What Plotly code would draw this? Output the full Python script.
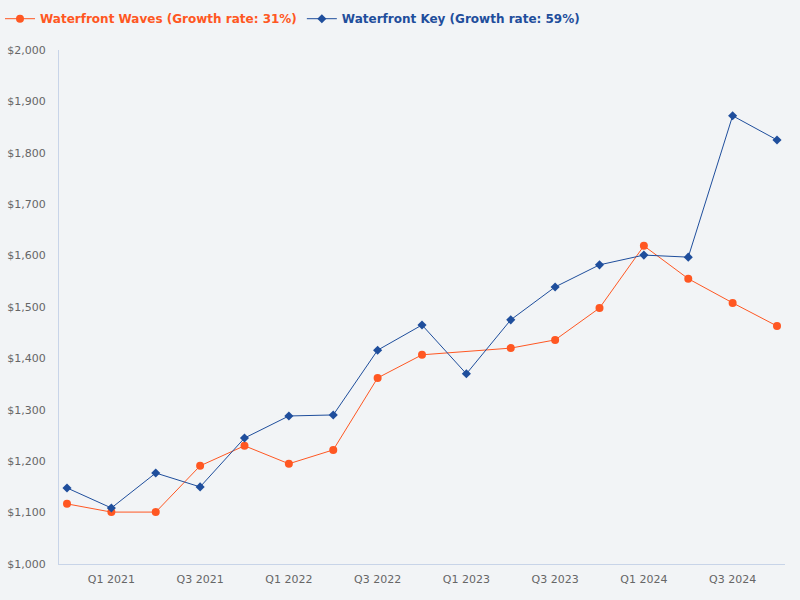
import plotly.graph_objects as go

quarters = ["Q4 2020", "Q1 2021", "Q2 2021", "Q3 2021", "Q4 2021", "Q1 2022", "Q2 2022",
            "Q3 2022", "Q4 2022", "Q1 2023", "Q2 2023", "Q3 2023", "Q4 2023", "Q1 2024",
            "Q2 2024", "Q3 2024", "Q4 2024"]
waves = [1117, 1101, 1101, 1191, 1230, 1195, 1222, 1362, 1407, None, 1420, 1436, 1498,
         1619, 1555, 1508, 1463]
key = [1148, 1109, 1177, 1150, 1245, 1288, 1290, 1416, 1465, 1370, 1475, 1539, 1582,
       1601, 1597, 1872, 1825]
tick_labels = ["Q1 2021", "Q3 2021", "Q1 2022", "Q3 2022", "Q1 2023", "Q3 2023",
               "Q1 2024", "Q3 2024"]
y_ticks = list(range(1000, 2001, 100))

idx = list(range(len(quarters)))
tickvals = [quarters.index(t) for t in tick_labels]

ORANGE = "#ff5722"
BLUE = "#1f4e9c"

fig = go.Figure()
fig.add_trace(go.Scatter(
    x=idx, y=waves, mode="lines+markers", connectgaps=True,
    name="<span style='color:%s'><b>Waterfront Waves (Growth rate: 31%%)</b></span>" % ORANGE,
    line=dict(color=ORANGE, width=1), marker=dict(symbol="circle", size=8, color=ORANGE),
))
fig.add_trace(go.Scatter(
    x=idx, y=key, mode="lines+markers", connectgaps=True,
    name="<span style='color:%s'><b>Waterfront Key (Growth rate: 59%%)</b></span>" % BLUE,
    line=dict(color=BLUE, width=1), marker=dict(symbol="diamond", size=7, color=BLUE),
))

fig.update_layout(
    width=800, height=600,
    paper_bgcolor="#f2f4f6", plot_bgcolor="#f2f4f6",
    margin=dict(l=59, r=15, t=50, b=36, autoexpand=False),
    font=dict(family="DejaVu Sans", size=11, color="#666666"),
    showlegend=True,
    legend=dict(orientation="h", x=0, y=0.993, xanchor="left", yanchor="top",
                xref="container", yref="container", font=dict(size=12),
                itemwidth=30, bgcolor="rgba(0,0,0,0)"),
    xaxis=dict(range=[-0.18, 16.18], tickvals=tickvals, ticktext=tick_labels,
               showgrid=False, zeroline=False, showline=True, linecolor="#c8d4e8",
               linewidth=1, ticks="outside", ticklen=5, tickcolor="rgba(0,0,0,0)",
               automargin=False, tickfont=dict(size=11, color="#666666")),
    yaxis=dict(range=[1000, 2000], tickvals=y_ticks,
               ticktext=["${:,}".format(v) for v in y_ticks],
               showgrid=False, zeroline=False, showline=True, linecolor="#c8d4e8",
               linewidth=1, ticks="outside", ticklen=10, tickcolor="rgba(0,0,0,0)",
               automargin=False, tickfont=dict(size=11, color="#666666")),
)

fig.write_html("out.html", config={"displayModeBar": False},
               post_script="document.body.style.margin='0';document.body.style.background='#f2f4f6';")
